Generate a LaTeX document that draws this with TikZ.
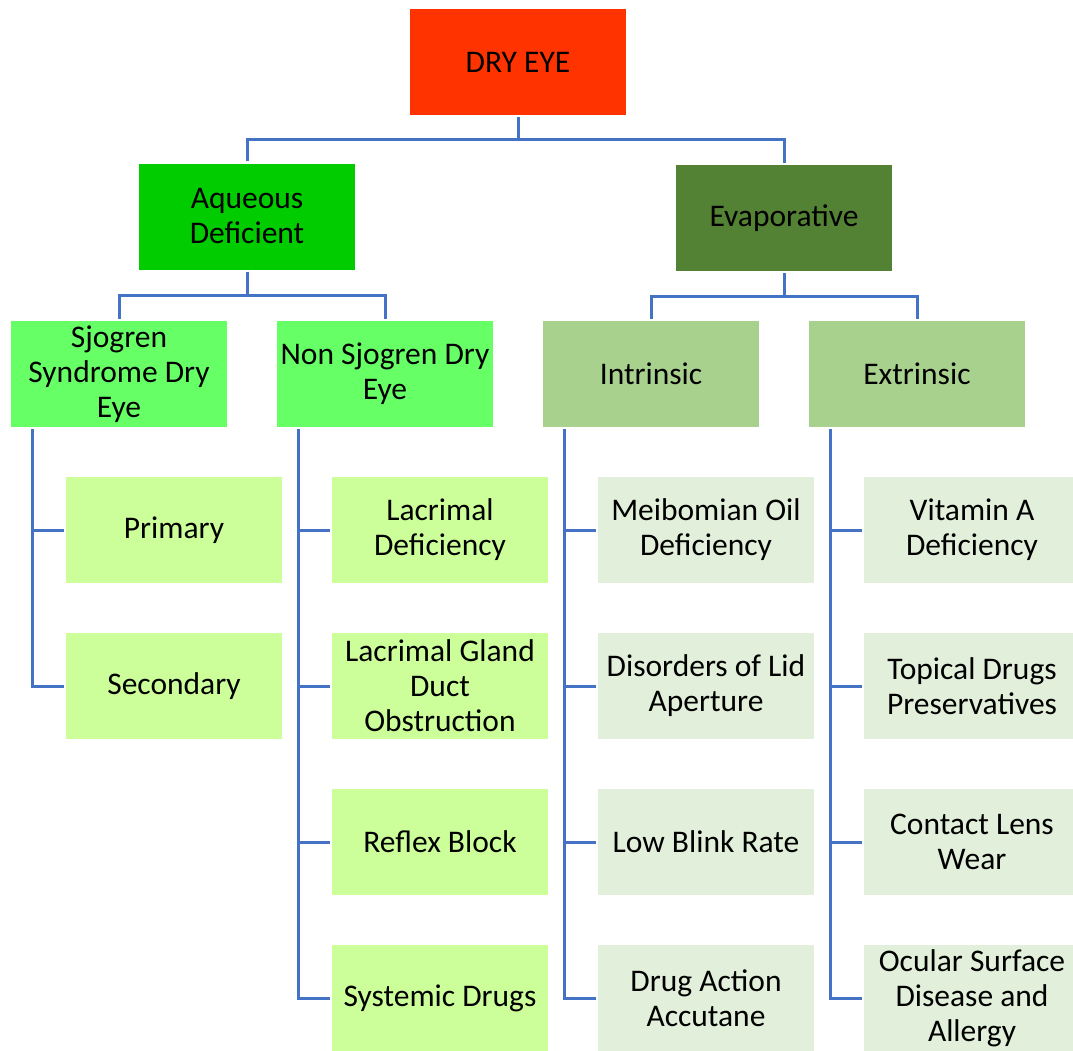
\documentclass[tikz,border=0pt]{standalone}
\usepackage{fontspec}
\setmainfont{Carlito}
\definecolor{rootred}{HTML}{FF3300}
\definecolor{aqgreen}{HTML}{00CC00}
\definecolor{evgreen}{HTML}{548235}
\definecolor{sjgreen}{HTML}{66FF66}
\definecolor{ingreen}{HTML}{A9D18E}
\definecolor{leafa}{HTML}{CCFF99}
\definecolor{leafe}{HTML}{E2EFDA}
\definecolor{linkblue}{HTML}{4472C4}
\begin{document}
\begin{tikzpicture}[x=1pt,y=-1pt,
  box/.style={minimum width=216pt,minimum height=106pt,inner sep=0pt,align=center,
    font=\fontsize{31.5}{35}\selectfont,text=black},
  conn/.style={draw=linkblue,line width=3pt,shorten <=2pt,shorten >=2pt}]
\useasboundingbox (0,0) rectangle (1073,1050);
\clip (0,0) rectangle (1073,1050);
% top levels
\node[box,fill=rootred] (dry) at (518,62) {DRY EYE};
\node[box,fill=aqgreen] (aq) at (247,216.5) {Aqueous\\Deficient};
\node[box,fill=evgreen] (ev) at (784,218) {Evaporative};
\node[box,fill=sjgreen] (sj) at (119,374) {Sjogren\\Syndrome Dry\\Eye};
\node[box,fill=sjgreen] (nsj) at (385,374) {Non Sjogren Dry\\Eye};
\node[box,fill=ingreen] (intr) at (651,374) {Intrinsic};
\node[box,fill=ingreen] (extr) at (917,374) {Extrinsic};
% leaves
\node[box,fill=leafa] (prim) at (174,530) {Primary};
\node[box,fill=leafa] (sec) at (174,686) {Secondary};
\node[box,fill=leafa] (lacd) at (440,530) {Lacrimal\\Deficiency};
\node[box,fill=leafa] (lacg) at (440,686) {Lacrimal Gland\\Duct\\Obstruction};
\node[box,fill=leafa] (refl) at (440,842) {Reflex Block};
\node[box,fill=leafa] (sysd) at (440,998) {Systemic Drugs};
\node[box,fill=leafe] (meib) at (706,530) {Meibomian Oil\\Deficiency};
\node[box,fill=leafe] (lid) at (706,686) {Disorders of Lid\\Aperture};
\node[box,fill=leafe] (blink) at (706,842) {Low Blink Rate};
\node[box,fill=leafe] (accu) at (706,998) {Drug Action\\Accutane};
\node[box,fill=leafe] (vita) at (972,530) {Vitamin A\\Deficiency};
\node[box,fill=leafe] (topd) at (972,686) {Topical Drugs\\Preservatives};
\node[box,fill=leafe] (lens) at (972,842) {Contact Lens\\Wear};
\node[box,fill=leafe] (ocul) at (972,998) {Ocular Surface\\Disease and\\Allergy};
% branch connectors
\draw[conn] (dry.south) -- ++(0,24) -| (aq.north);
\draw[conn] (dry.south) -- ++(0,24) -| (ev.north);
\draw[conn] (aq.south) -- ++(0,26) -| (sj.north);
\draw[conn] (aq.south) -- ++(0,26) -| (nsj.north);
\draw[conn] (ev.south) -- ++(0,25) -| (intr.north);
\draw[conn] (ev.south) -- ++(0,25) -| (extr.north);
% spine connectors to leaves
\foreach \p/\c in {sj/prim,sj/sec,nsj/lacd,nsj/lacg,nsj/refl,nsj/sysd,
                   intr/meib,intr/lid,intr/blink,intr/accu,
                   extr/vita,extr/topd,extr/lens,extr/ocul}
  \draw[conn] ([xshift=22pt]\p.south west) |- (\c.west);
\end{tikzpicture}
\end{document}
